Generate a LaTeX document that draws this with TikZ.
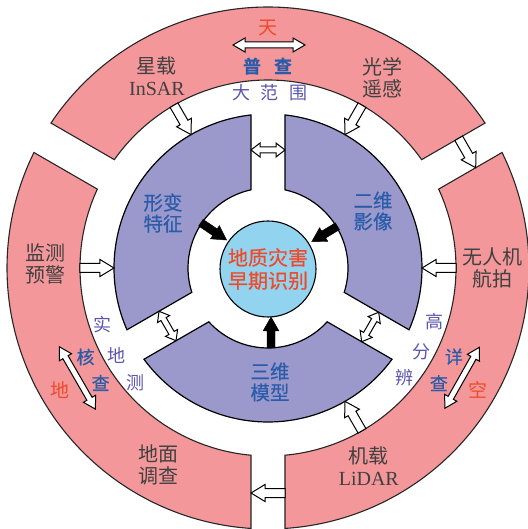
\documentclass[tikz,border=0pt]{standalone}
\usepackage{fontspec}
\setmainfont{Liberation Serif}
\newfontfamily\cjk{Noto Sans CJK SC}
\newfontfamily\cjkmed{Noto Sans CJK SC}[FakeBold=0.6]
\usetikzlibrary{calc}
\definecolor{pinkfill}{HTML}{F4979A}
\definecolor{purpfill}{HTML}{9B98CB}
\definecolor{corefill}{HTML}{92D3F0}
\definecolor{txtblue}{HTML}{2A5CAA}
\definecolor{txtpurp}{HTML}{5C55AE}
\definecolor{txtred}{HTML}{EE4B2B}
\definecolor{txtgray}{HTML}{404040}
\tikzset{
  pinkseg/.style={fill=pinkfill, draw=black!85, line width=1.1pt, line join=miter},
  purpseg/.style={fill=purpfill, draw=black, line width=1.2pt, line join=miter},
  harrow/.style={draw=black, fill=white, line width=1pt, line join=miter},
  barrow/.style={draw=black, fill=black, line width=0.4pt, line join=miter},
  plabel/.style={font=\fontsize{20}{22}\selectfont, text=txtgray, align=center, inner sep=0pt},
  seclabel/.style={font=\cjkmed\fontsize{19.5}{21}\selectfont, text=txtblue, align=center, inner sep=0pt},
  bluech/.style={font=\cjkmed\fontsize{18}{20}\selectfont, text=txtblue, inner sep=0pt},
  purpch/.style={font=\cjk\fontsize{18}{20}\selectfont, text=txtpurp, inner sep=0pt},
  redch/.style={font=\cjk\fontsize{19}{21}\selectfont, text=txtred, inner sep=0pt},
}
\newcommand\ringsector[5]{%
  \pgfmathsetmacro\aone{asin(17/#2)}%
  \pgfmathsetmacro\atwo{asin(17/#3)}%
  \pgfmathsetmacro\sA{#4+\aone}\pgfmathsetmacro\sB{#4+\atwo}%
  \pgfmathsetmacro\eA{#5-\aone}\pgfmathsetmacro\eB{#5-\atwo}%
  \draw[#1] (\sA:#2pt) -- (\sB:#3pt) arc[start angle=\sB, end angle=\eB, radius=#3pt]
    -- (\eA:#2pt) arc[start angle=\eA, end angle=\sA, radius=#2pt] -- cycle;
}
\newcommand\blockarrow[6]{%
  \coordinate (ha-b) at ($(#3)!#6!(#2)$);
  \draw[#1] ($(#2)!#4!90:(#3)$) -- ($(ha-b)!#4!90:(#3)$) -- ($(ha-b)!#5!90:(#3)$) -- (#3)
    -- ($(ha-b)!#5!-90:(#3)$) -- ($(ha-b)!#4!-90:(#3)$) -- ($(#2)!#4!-90:(#3)$) -- cycle;
}
\newcommand\blockdarrow[6]{%
  \coordinate (hd-a) at ($(#2)!#6!(#3)$);
  \coordinate (hd-b) at ($(#3)!#6!(#2)$);
  \draw[#1] (#2) -- ($(hd-a)!#5!90:(#3)$) -- ($(hd-a)!#4!90:(#3)$) -- ($(hd-b)!#4!90:(#3)$)
    -- ($(hd-b)!#5!90:(#3)$) -- (#3) -- ($(hd-b)!#5!-90:(#3)$) -- ($(hd-b)!#4!-90:(#3)$)
    -- ($(hd-a)!#4!-90:(#3)$) -- ($(hd-a)!#5!-90:(#3)$) -- cycle;
}
\begin{document}
\begin{tikzpicture}[x=1pt,y=1pt]
\useasboundingbox (-268,-261) rectangle (259,268);
% outer (pink) ring
\ringsector{pinkseg}{188}{261}{30}{150}
\ringsector{pinkseg}{188}{261}{150}{270}
\ringsector{pinkseg}{188}{261}{-90}{30}
% middle (purple) ring
\ringsector{purpseg}{80}{154}{90}{210}
\ringsector{purpseg}{80}{154}{-30}{90}
\ringsector{purpseg}{80}{154}{210}{330}
% core
\node[circle, fill=corefill, draw=black, line width=1.1pt, minimum size=96pt, inner sep=0pt,
      font=\cjkmed\fontsize{20}{23}\selectfont, text=txtred, align=center] (core) at (0,-1) {地质灾害\\早期识别};
% sector labels
\node[seclabel] (xb) at (-105,55) {形变\\特征};
\node[seclabel] (ew) at (105,57) {二维\\影像};
\node[seclabel] (sw) at (2,-114) {三维\\模型};
% outer labels
\node[plabel] (insar) at (120:222pt) {{\cjk 星载}\\InSAR};
\node[plabel] (gxyg) at (59:222pt) {{\cjk 光学}\\{\cjk 遥感}};
\node[plabel] (jcyj) at (179:223pt) {{\cjk 监测}\\{\cjk 预警}};
\node[plabel] (wrj) at (0:224pt) {{\cjk 无人机}\\{\cjk 航拍}};
\node[plabel] (dmdc) at (241:225pt) {{\cjk 地面}\\{\cjk 调查}};
\node[plabel] (lidar) at (297:222pt) {{\cjk 机载}\\LiDAR};
% top annotations
\node[redch] (tian) at (0,240) {天};
\coordinate (tl) at (-35,223); \coordinate (tr) at (37,223);
\blockdarrow{harrow}{tl}{tr}{3pt}{7pt}{12pt}
\node[bluech, font=\cjk\bfseries\fontsize{18}{20}\selectfont] (pc1) at (0,201) {普\hspace{14pt}查};
\node[purpch] (dfw) at (2,175) {大\hspace{11pt}范\hspace{11pt}围};
% left annotations
\node[purpch] (s1) at (199:175pt) {实};
\node[purpch] (s2) at (210:175pt) {地};
\node[purpch] (s3) at (221:175pt) {测};
\node[bluech] (h1) at (206:203pt) {核};
\node[bluech] (h2) at (214.5:203pt) {查};
\node[redch] (di) at (210.5:241pt) {地};
\coordinate (lda) at ($(210:220pt)+(120:36pt)$);
\coordinate (ldb) at ($(210:220pt)+(300:36pt)$);
\blockdarrow{harrow}{lda}{ldb}{3pt}{7pt}{12pt}
% right annotations
\node[purpch] (g1) at (-18:175pt) {高};
\node[purpch] (g2) at (-28.5:175pt) {分};
\node[purpch] (g3) at (-39:175pt) {辨};
\node[bluech] (x1) at (-25.5:206pt) {详};
\node[bluech] (x2) at (-34:206pt) {查};
\node[redch] (kong) at (-30:243pt) {空};
\coordinate (rda) at ($(-29.5:223pt)+(60.5:35pt)$);
\coordinate (rdb) at ($(-29.5:223pt)+(240.5:35pt)$);
\blockdarrow{harrow}{rda}{rdb}{3pt}{7pt}{12pt}
% pink -> purple arrows
\coordinate (a1s) at (120:188pt); \coordinate (a1e) at (120:154pt);
\coordinate (a2s) at (60:188pt);  \coordinate (a2e) at (60:154pt);
\coordinate (a3s) at (0:188pt);   \coordinate (a3e) at (0:154pt);
\coordinate (a4s) at (-60:188pt); \coordinate (a4e) at (-60:154pt);
\coordinate (a5s) at (180:188pt); \coordinate (a5e) at (180:154pt);
\blockarrow{harrow}{a1s}{a1e}{4.5pt}{8.5pt}{14pt}
\blockarrow{harrow}{a2s}{a2e}{4.5pt}{8.5pt}{14pt}
\blockarrow{harrow}{a3s}{a3e}{4.5pt}{8.5pt}{14pt}
\blockarrow{harrow}{a4s}{a4e}{4.5pt}{8.5pt}{14pt}
\blockarrow{harrow}{a5s}{a5e}{4.5pt}{8.5pt}{14pt}
% pink gap arrows
\coordinate (g30s) at ($(30:230pt)+(120:17pt)$); \coordinate (g30e) at ($(30:230pt)+(-60:17pt)$);
\blockarrow{harrow}{g30s}{g30e}{4.5pt}{8.5pt}{14pt}
\coordinate (g270s) at ($(270:225pt)+(0:17pt)$); \coordinate (g270e) at ($(270:225pt)+(180:17pt)$);
\blockarrow{harrow}{g270s}{g270e}{4.5pt}{8.5pt}{14pt}
% purple gap double arrows
\coordinate (p90a) at ($(90:118pt)+(180:17pt)$); \coordinate (p90b) at ($(90:118pt)+(0:17pt)$);
\blockdarrow{harrow}{p90a}{p90b}{3pt}{7pt}{9pt}
\coordinate (p210a) at ($(210:116pt)+(300:17pt)$); \coordinate (p210b) at ($(210:116pt)+(120:17pt)$);
\blockdarrow{harrow}{p210a}{p210b}{3pt}{7pt}{9pt}
\coordinate (p330a) at ($(330:118pt)+(60:17pt)$); \coordinate (p330b) at ($(330:118pt)+(240:17pt)$);
\blockdarrow{harrow}{p330a}{p330b}{3pt}{7pt}{9pt}
% black arrows into core
\coordinate (k1s) at (146:81pt); \coordinate (k1e) at (146:50pt);
\coordinate (k2s) at (31:81pt);  \coordinate (k2e) at (31:51pt);
\coordinate (k3s) at (3,-80);    \coordinate (k3e) at (3,-49);
\blockarrow{barrow}{k1s}{k1e}{4pt}{8pt}{14pt}
\blockarrow{barrow}{k2s}{k2e}{4pt}{8pt}{14pt}
\blockarrow{barrow}{k3s}{k3e}{4pt}{8pt}{14pt}
\end{tikzpicture}
\end{document}
